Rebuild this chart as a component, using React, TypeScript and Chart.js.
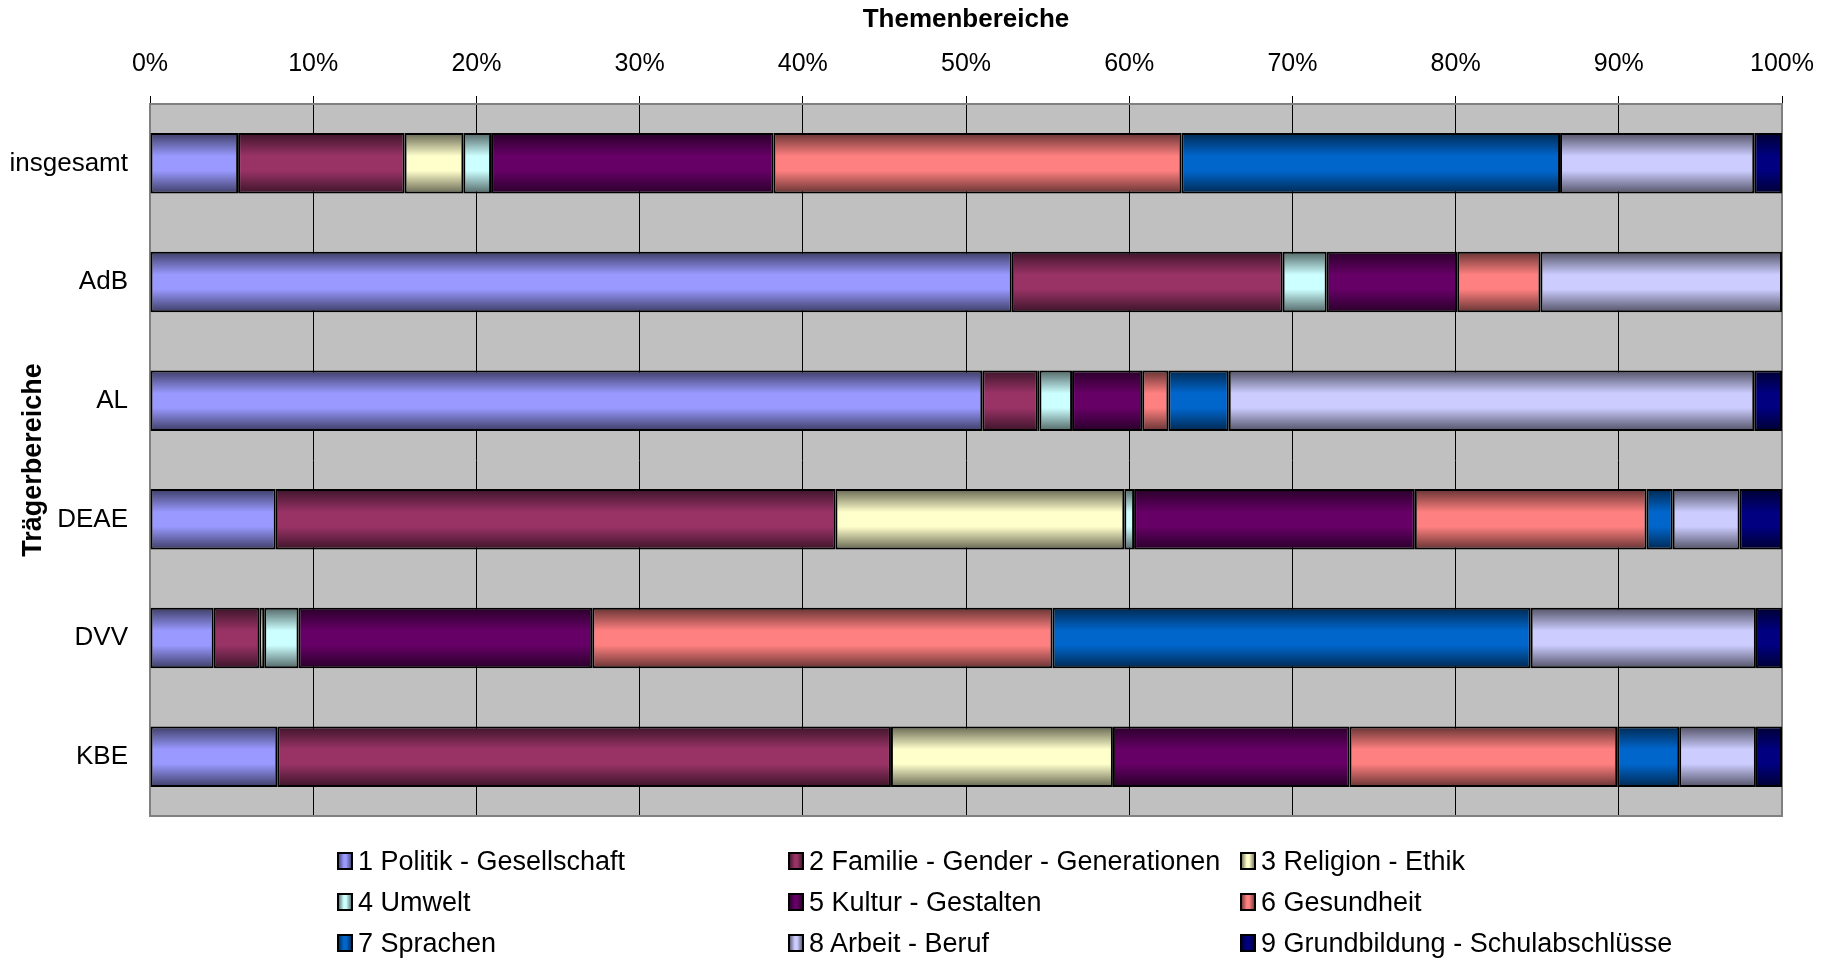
import React, { useEffect, useRef } from "react";
import { Chart, registerables } from "chart.js";

Chart.register(...registerables);

const categories = ["insgesamt", "AdB", "AL", "DEAE", "DVV", "KBE"];

const themeLabels = [
  "1 Politik - Gesellschaft",
  "2 Familie - Gender - Generationen",
  "3 Religion - Ethik",
  "4 Umwelt",
  "5 Kultur - Gestalten",
  "6 Gesundheit",
  "7 Sprachen",
  "8 Arbeit - Beruf",
  "9 Grundbildung - Schulabschlüsse",
];

const themeColors = [
  "#9999FF",
  "#993366",
  "#FFFFCC",
  "#CCFFFF",
  "#660066",
  "#FF8080",
  "#0066CC",
  "#CCCCFF",
  "#000080",
];

const politik = [5.4, 52.8, 51.0, 7.7, 3.9, 7.8];
const familie = [10.2, 16.6, 3.4, 34.3, 2.8, 37.6];
const religion = [3.6, 0, 0.1, 17.7, 0.3, 13.6];
const umwelt = [1.7, 2.7, 2.0, 0.6, 2.1, 0];
const kultur = [17.3, 8.0, 4.3, 17.2, 18.0, 14.5];
const gesundheit = [25.0, 5.1, 1.6, 14.2, 28.2, 16.4];
const sprachen = [23.2, 0, 3.7, 1.6, 29.3, 3.8];
const arbeit = [11.9, 14.8, 32.2, 4.1, 13.8, 4.7];
const grundbildung = [1.7, 0, 1.7, 2.6, 1.6, 1.6];

const seriesValues = [politik, familie, religion, umwelt, kultur, gesundheit, sprachen, arbeit, grundbildung];

const xTicks = [0, 10, 20, 30, 40, 50, 60, 70, 80, 90, 100];

const FONT = "'Liberation Sans', Arial, sans-serif";
const BAR_PCT = 0.51;

function shade(hex: string, f: number): string {
  const n = parseInt(hex.slice(1), 16);
  const r = Math.round(((n >> 16) & 255) * f);
  const g = Math.round(((n >> 8) & 255) * f);
  const b = Math.round((n & 255) * f);
  return `rgb(${r},${g},${b})`;
}

function barGradient(ctx: any, color: string) {
  const chart = ctx.chart;
  const y = chart.scales && chart.scales.y;
  if (!chart.chartArea || !y || ctx.dataIndex === undefined) return color;
  const center = y.getPixelForValue(ctx.dataIndex);
  const catH = y.height / categories.length;
  const half = (catH * BAR_PCT) / 2;
  const g = chart.ctx.createLinearGradient(0, center - half, 0, center + half);
  g.addColorStop(0, shade(color, 0.4));
  g.addColorStop(0.38, color);
  g.addColorStop(0.62, color);
  g.addColorStop(1, shade(color, 0.4));
  return g;
}

const plotBg = {
  id: "plotBg",
  beforeDraw(chart: any) {
    const { ctx, chartArea: a } = chart;
    ctx.save();
    ctx.fillStyle = "#C0C0C0";
    ctx.fillRect(a.left, a.top, a.right - a.left, a.bottom - a.top);
    ctx.restore();
  },
  beforeDatasetsDraw(chart: any) {
    const { ctx, chartArea: a } = chart;
    ctx.save();
    ctx.strokeStyle = "#808080";
    ctx.lineWidth = 2;
    ctx.strokeRect(a.left, a.top, a.right - a.left, a.bottom - a.top);
    ctx.restore();
  },
};

export default function App() {
  const ref = useRef<HTMLCanvasElement | null>(null);

  useEffect(() => {
    if (!ref.current) return;
    const chart = new Chart(ref.current, {
      type: "bar",
      data: {
        labels: categories,
        datasets: seriesValues.map((vals, i) => ({
          label: themeLabels[i],
          data: vals,
          backgroundColor: (ctx: any) => barGradient(ctx, themeColors[i]),
          borderColor: "#000000",
          borderWidth: 2,
          borderSkipped: false,
          categoryPercentage: 1,
          barPercentage: BAR_PCT,
        })),
      },
      options: {
        indexAxis: "y",
        responsive: false,
        animation: false,
        layout: { padding: { top: 0, left: 0, right: 52, bottom: 144 } },
        plugins: { legend: { display: false }, tooltip: { enabled: false } },
        scales: {
          x: {
            position: "top",
            stacked: true,
            min: 0,
            max: 100,
            afterBuildTicks: (scale: any) => {
              scale.ticks = xTicks.map((v) => ({ value: v }));
            },
            afterFit: (scale: any) => {
              scale.height = 104;
            },
            grid: {
              color: "#000000",
              lineWidth: 1,
              drawTicks: true,
              tickLength: 8,
              tickColor: "#000000",
            },
            border: { display: true, color: "#606060", width: 2 },
            ticks: {
              color: "#000000",
              padding: 17,
              maxRotation: 0,
              font: { family: FONT, size: 25 },
              callback: (v: any) => v + "%",
            },
            title: {
              display: true,
              text: "Themenbereiche",
              color: "#000000",
              padding: { top: 4, bottom: 0 },
              font: { family: FONT, size: 26, weight: "bold" },
            },
          },
          y: {
            stacked: true,
            afterFit: (scale: any) => {
              scale.width = 150;
            },
            grid: { display: false, drawTicks: false },
            border: { display: true, color: "#808080", width: 2 },
            ticks: {
              color: "#000000",
              padding: 22,
              font: { family: FONT, size: 26 },
            },
            title: {
              display: true,
              text: "Trägerbereiche",
              color: "#000000",
              padding: { top: 17, bottom: 0 },
              font: { family: FONT, size: 27, weight: "bold" },
            },
          },
        },
      },
      plugins: [plotBg],
    });
    return () => chart.destroy();
  }, []);

  const colX = [337, 788, 1240];
  const rowY = [861, 902, 943];

  return (
    <div
      style={{
        position: "fixed",
        left: 0,
        top: 0,
        width: 1834,
        height: 960,
        background: "#ffffff",
        overflow: "hidden",
      }}
    >
      <canvas ref={ref} width={1834} height={960} style={{ width: 1834, height: 960, display: "block" }} />
      {themeLabels.map((lab, i) => {
        const c = themeColors[i];
        return (
          <div
            key={lab}
            style={{
              position: "absolute",
              left: colX[i % 3],
              top: rowY[Math.floor(i / 3)] - 17,
              height: 34,
              display: "flex",
              alignItems: "center",
              fontFamily: FONT,
              fontSize: 27,
              color: "#000",
              whiteSpace: "nowrap",
            }}
          >
            <span
              style={{
                display: "inline-block",
                width: 12,
                height: 14,
                border: "2px solid #000",
                background: `linear-gradient(to right, ${shade(c, 0.5)}, ${c} 40%, ${c} 60%, ${shade(c, 0.5)})`,
                marginRight: 5,
              }}
            />
            <span>{lab}</span>
          </div>
        );
      })}
    </div>
  );
}
